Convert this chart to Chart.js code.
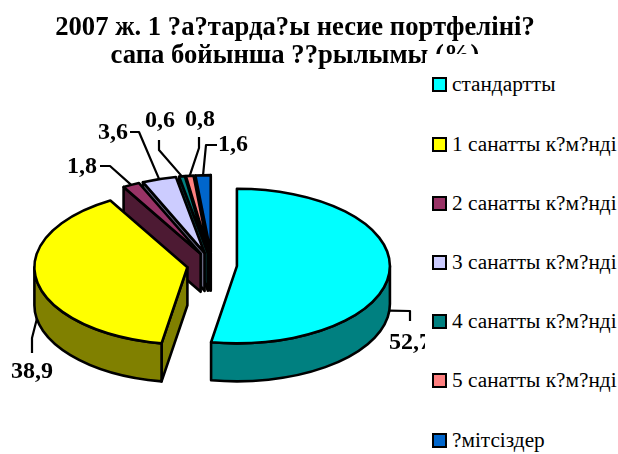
<!DOCTYPE html>
<html>
<head>
<meta charset="utf-8">
<script src="https://cdn.jsdelivr.net/npm/chart.js@4/dist/chart.umd.js"></script>
<style>
    body { margin: 0; background: #fff; }
    #wrap { position: relative; width: 618px; height: 454px; overflow: hidden; filter: blur(0.4px); }
    #legend {
        position: absolute; left: 425px; top: 54px; width: 193px; height: 400px; padding-top: 1.4px;
        box-sizing: border-box;
        background: #fff; font: 21.3px "Liberation Serif", serif; color: #000;
    }
    .item { height: 59.2px; display: flex; align-items: center; white-space: nowrap; }
    .swatch { width: 11px; height: 11px; border: 2px solid #000; margin: 0 5px 0 7px; flex: none; }
</style>
</head>
<body>
<div id="wrap">
    <canvas id="pie" width="618" height="454"></canvas>
    <div id="legend"></div>
</div>
<script>
const titleLines = ['2007 ж. 1 ?а?тарда?ы несие портфеліні?', 'сапа бойынша ??рылымы (%)'];
const categories = ['стандартты', '1 санатты к?м?нді', '2 санатты к?м?нді', '3 санатты к?м?нді',
    '4 санатты к?м?нді', '5 санатты к?м?нді', '?мітсіздер'];
const values = [52.7, 38.9, 1.8, 3.6, 0.6, 0.8, 1.6];
const topColors = ['#00ffff', '#ffff00', '#993366', '#ccccff', '#008080', '#ff8080', '#0066cc'];
const sideColors = ['#008080', '#808000', '#4d1a33', '#666680', '#004040', '#804040', '#003366'];

// Label text centres and the elbow of each leader line
const labelSpots = [[410, 343], [32, 372], [82, 167], [113, 133], [160, 121], [200, 120], [233, 145]];
const elbows = [[[410, 311], [410, 321]], [[32, 338], [32, 353]], [[110, 166], [100, 166]],
    [[139, 132], [130, 132]], [[159, 150], [159, 140]], [[199, 148], [199, 137]], [[206, 145], [217, 145]]];
const drawOrder = [6, 5, 4, 3, 2, 1, 0];

// Tilted, exploded view of the pie
const centerX = 212, centerY = 265, squash = 0.505, depth = 38, explode = 25;
const blackLine = 2.6;

function sliceGeometry(arc) {
    const mid = (arc.startAngle + arc.endAngle) / 2;
    return {
        ax: centerX + explode * Math.cos(mid),
        ay: centerY + explode * Math.sin(mid) * squash,
        r: arc.outerRadius,
        start: arc.startAngle,
        end: arc.endAngle,
        mid: mid
    };
}

function rim(g, angle) {
    return [g.ax + g.r * Math.cos(angle), g.ay + g.r * Math.sin(angle) * squash];
}

function radialFace(ctx, g, angle, color) {
    const p = rim(g, angle);
    ctx.beginPath();
    ctx.moveTo(g.ax, g.ay);
    ctx.lineTo(p[0], p[1]);
    ctx.lineTo(p[0], p[1] + depth);
    ctx.lineTo(g.ax, g.ay + depth);
    ctx.closePath();
    ctx.fillStyle = color;
    ctx.fill();
    ctx.stroke();
}

function outerWall(ctx, g, color) {
    // only the part of the rim facing the viewer, angles 0..PI
    const from = Math.max(g.start, 0), to = Math.min(g.end, Math.PI);
    if (to <= from) return;
    ctx.beginPath();
    ctx.ellipse(g.ax, g.ay, g.r, g.r * squash, 0, from, to);
    ctx.ellipse(g.ax, g.ay + depth, g.r, g.r * squash, 0, to, from, true);
    ctx.closePath();
    ctx.fillStyle = color;
    ctx.fill();
    ctx.stroke();
}

const tiltedPie = {
    id: 'tiltedPie',
    beforeDatasetsDraw(chart) {
        const ctx = chart.ctx;
        const arcs = chart.getDatasetMeta(0).data;
        ctx.save();
        ctx.strokeStyle = '#000';
        ctx.lineWidth = blackLine;
        ctx.lineJoin = 'round';
        drawOrder.forEach(function (i) {
            const arc = arcs[i];
            const g = sliceGeometry(arc);
            if (-Math.cos(g.start) > 0) radialFace(ctx, g, g.start, sideColors[i]);
            if (Math.cos(g.end) > 0) radialFace(ctx, g, g.end, sideColors[i]);
            outerWall(ctx, g, sideColors[i]);

            // top face comes from the library, squashed into the tilted plane
            ctx.save();
            ctx.translate(g.ax, g.ay);
            ctx.scale(1, squash);
            ctx.translate(-arc.x, -arc.y);
            arc.draw(ctx, chart.chartArea);
            ctx.restore();

            ctx.beginPath();
            ctx.moveTo(g.ax, g.ay);
            ctx.ellipse(g.ax, g.ay, g.r, g.r * squash, 0, g.start, g.end);
            ctx.closePath();
            ctx.stroke();
        });

        // leader lines and value labels
        ctx.fillStyle = '#000';
        ctx.font = 'bold 24px "Liberation Serif", serif';
        ctx.textAlign = 'center';
        ctx.textBaseline = 'middle';
        ctx.lineWidth = 2.2;
        arcs.forEach(function (arc, i) {
            const g = sliceGeometry(arc);
            const p = rim(g, g.mid);
            const front = Math.sin(g.mid) > 0 ? depth : 0;
            ctx.beginPath();
            ctx.moveTo(p[0], p[1] + front);
            elbows[i].forEach(function (e) { ctx.lineTo(e[0], e[1]); });
            ctx.stroke();
            ctx.fillText(values[i].toFixed(1).replace('.', ','), labelSpots[i][0], labelSpots[i][1]);
        });
        ctx.restore();
        return false;
    }
};

new Chart(document.getElementById('pie'), {
    type: 'pie',
    data: {
        labels: categories,
        datasets: [{
            data: values,
            backgroundColor: topColors,
            borderWidth: 0,
            radius: 153,
            clip: false
        }]
    },
    options: {
        responsive: false,
        animation: false,
        events: [],
        layout: { padding: { right: 28 } },
        plugins: {
            legend: { display: false },
            tooltip: { enabled: false },
            title: {
                display: true,
                text: titleLines,
                color: '#000',
                font: { family: '"Liberation Serif", serif', size: 26.67, weight: 'bold', lineHeight: 1.02 },
                padding: { top: 15, bottom: 10 }
            }
        }
    },
    plugins: [tiltedPie]
});

// Legend, built from the same lists
const legendBox = document.getElementById('legend');
categories.forEach(function (name, i) {
    const row = document.createElement('div');
    row.className = 'item';
    const swatch = document.createElement('span');
    swatch.className = 'swatch';
    swatch.style.background = topColors[i];
    const label = document.createElement('span');
    label.textContent = name;
    row.appendChild(swatch);
    row.appendChild(label);
    legendBox.appendChild(row);
});
</script>
</body>
</html>
